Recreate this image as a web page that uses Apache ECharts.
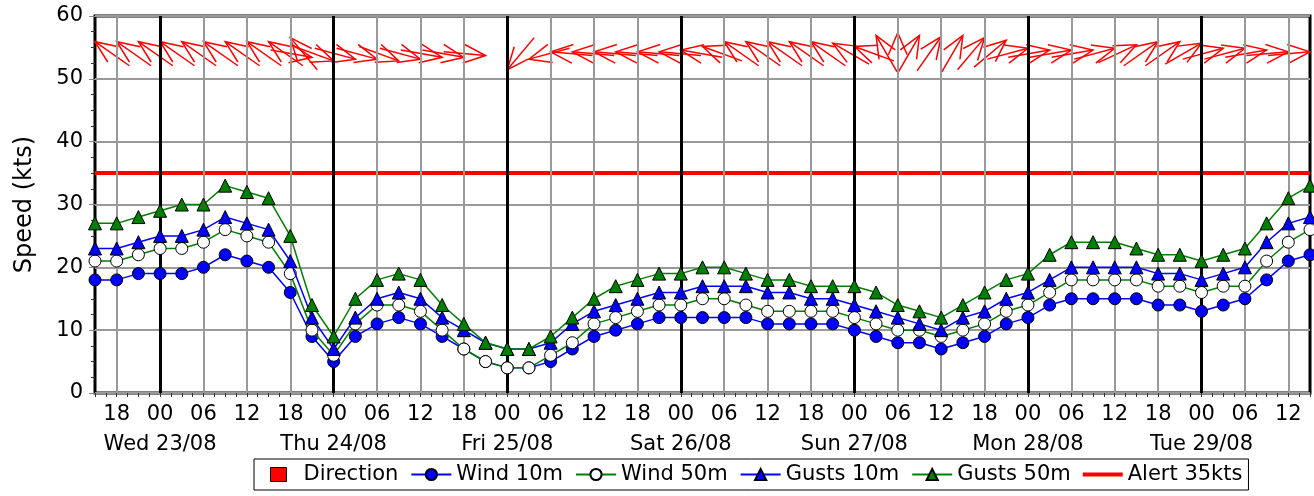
<!DOCTYPE html>
<html>
<head>
<meta charset="utf-8">
<script src="https://cdn.jsdelivr.net/npm/echarts@6.0.0/dist/echarts.min.js"></script>
<style>
  html, body { margin: 0; padding: 0; background: #fff; }
  #chart { width: 1314px; height: 496px; }
</style>
</head>
<body>
<div id="chart"></div>
<script>
// hours counted from Tue 22/08 00:00, one point every 3 hours
const startHour = 15;
const endHour = 183;
const stepHours = 3;

const dayNames = ['Wed 23/08', 'Thu 24/08', 'Fri 25/08', 'Sat 26/08', 'Sun 27/08', 'Mon 28/08', 'Tue 29/08'];

const wind10 = [18, 18, 19, 19, 19, 20, 22, 21, 20, 16, 9,
  5, 9, 11, 12, 11, 9, 7, 5,
  4, 4, 5, 7, 9, 10, 11, 12,
  12, 12, 12, 12, 11, 11, 11, 11,
  10, 9, 8, 8, 7, 8, 9, 11,
  12, 14, 15, 15, 15, 15, 14, 14,
  13, 14, 15, 18, 21, 22];
const wind50 = [21, 21, 22, 23, 23, 24, 26, 25, 24, 19, 10,
  6, 11, 14, 14, 13, 10, 7, 5,
  4, 4, 6, 8, 11, 12, 13, 14,
  14, 15, 15, 14, 13, 13, 13, 13,
  12, 11, 10, 10, 9, 10, 11, 13,
  14, 16, 18, 18, 18, 18, 17, 17,
  16, 17, 17, 21, 24, 26];
const gusts10 = [23, 23, 24, 25, 25, 26, 28, 27, 26, 21, 12,
  7, 12, 15, 16, 15, 12, 10, 8,
  7, 7, 8, 11, 13, 14, 15, 16,
  16, 17, 17, 17, 16, 16, 15, 15,
  14, 13, 12, 11, 10, 12, 13, 15,
  16, 18, 20, 20, 20, 20, 19, 19,
  18, 19, 20, 24, 27, 28];
const gusts50 = [27, 27, 28, 29, 30, 30, 33, 32, 31, 25, 14,
  9, 15, 18, 19, 18, 14, 11, 8,
  7, 7, 9, 12, 15, 17, 18, 19,
  19, 20, 20, 19, 18, 18, 17, 17,
  17, 16, 14, 13, 12, 14, 16, 18,
  19, 22, 24, 24, 24, 23, 22, 22,
  21, 22, 23, 27, 31, 33];
// direction the arrow points to, degrees clockwise from north
const direction = [305, 305, 305, 305, 305, 305, 305, 305, 305, 320, 100,
  110, 105, 105, 110, 105, 100, 100, 95,
  220, 255, 275, 275, 275, 275, 275, 275,
  280, 290, 305, 305, 305, 305, 305, 300,
  290, 330, 0, 30, 35, 30, 40, 50,
  75, 80, 80, 80, 75, 65, 55, 55,
  60, 75, 75, 80, 85, 85];
const arrowLevel = 54;
const alertLevel = 35;

const hours = [];
for (let i = 0; i < wind10.length; i++) {
  hours.push(startHour + i * stepHours);
}
const pairs = arr => arr.map((v, i) => [hours[i], v]);

const gridLines = [];
const dayLines = [];
for (let h = 18; h < endHour; h += 6) {
  if (h % 24 === 0) dayLines.push({ xAxis: h });
  else gridLines.push({ xAxis: h });
}

const font = 'DejaVu Sans';
const blue = '#0000ff';
const green = '#008000';

const chart = echarts.init(document.getElementById('chart'));

function renderArrow(params, api) {
  const p = api.coord([api.value(0), api.value(1)]);
  const a = api.value(2) * Math.PI / 180;
  const ux = Math.sin(a), uy = -Math.cos(a);
  const len = 42, barb = 24, spread = 23 * Math.PI / 180;
  const tip = [p[0], p[1] + uy * len / 2];
  const tail = [tip[0] - ux * len, tip[1] - uy * len];
  const bx = -ux, by = -uy;
  const rot = s => [
    tip[0] + barb * (bx * Math.cos(s) - by * Math.sin(s)),
    tip[1] + barb * (bx * Math.sin(s) + by * Math.cos(s))
  ];
  const style = { stroke: '#ff0000', lineWidth: 1.5, fill: null };
  return {
    type: 'group',
    children: [
      { type: 'polyline', shape: { points: [tail, tip] }, style: style },
      { type: 'polyline', shape: { points: [rot(spread), tip, rot(-spread)] }, style: style }
    ]
  };
}

const option = {
  animation: false,
  backgroundColor: '#fff',
  textStyle: { fontFamily: font, color: '#000' },
  grid: {
    left: 95, right: 4, top: 16, bottom: 103,
    show: true, borderColor: '#000', borderWidth: 3
  },
  legend: {
    left: 254, top: 459,
    padding: [5, 6, 5, 4],
    itemGap: 12, itemWidth: 40, itemHeight: 14,
    backgroundColor: '#fff', borderColor: '#000', borderWidth: 1,
    textStyle: { fontFamily: font, fontSize: 21, color: '#000' },
    data: [
      {
        name: 'Direction',
        icon: 'path://M0 7L0 7M12 0H28V14H12ZM40 7L40 7',
        itemStyle: { color: '#ff0000', borderColor: '#000', borderWidth: 1 }
      },
      'Wind 10m', 'Wind 50m', 'Gusts 10m', 'Gusts 50m',
      {
        name: 'Alert 35kts',
        icon: 'path://M0 0L0 0M0 5H40V9H0ZM0 14L0 14',
        itemStyle: { color: '#ff0000', borderWidth: 0 }
      }
    ]
  },
  xAxis: {
    type: 'value',
    min: startHour, max: endHour, interval: 1.5,
    axisLine: { show: false },
    axisTick: { show: true, length: 4, lineStyle: { color: '#333', width: 1 } },
    splitLine: { show: false },
    axisLabel: {
      margin: 7, fontFamily: font, fontSize: 21, color: '#000', lineHeight: 30,
      formatter: v => {
        const h = Math.round(v * 10) / 10;
        if (h % 6 !== 0) return '';
        const hh = String(h % 24).padStart(2, '0');
        if (h % 24 === 0) return hh + '\n' + dayNames[h / 24 - 1];
        return hh;
      }
    }
  },
  yAxis: {
    type: 'value',
    min: 0, max: 60, interval: 10,
    name: 'Speed (kts)', nameLocation: 'middle', nameGap: 58,
    nameTextStyle: { fontFamily: font, fontSize: 24, color: '#000' },
    axisLine: { show: false },
    axisTick: { show: true, inside: false, length: 6, lineStyle: { color: '#888' } },
    minorTick: { show: true, splitNumber: 4, length: 4, lineStyle: { color: '#333' } },
    axisLabel: { margin: 12, fontFamily: font, fontSize: 21, color: '#000' },
    splitLine: { show: true, lineStyle: { color: '#999', width: 2 } }
  },
  series: [
    {
      name: 'Direction',
      type: 'custom',
      z: 4,
      itemStyle: { color: '#ff0000' },
      renderItem: renderArrow,
      data: direction.map((d, i) => [hours[i], arrowLevel, d])
    },
    {
      name: 'grid',
      type: 'line',
      data: [],
      z: 1,
      silent: true,
      markLine: {
        silent: true, symbol: 'none', label: { show: false },
        data: gridLines,
        lineStyle: { color: '#999', width: 2, type: 'solid' }
      }
    },
    {
      name: 'days',
      type: 'line',
      data: [],
      z: 2,
      silent: true,
      markLine: {
        silent: true, symbol: 'none', label: { show: false },
        data: dayLines,
        lineStyle: { color: '#000', width: 3, type: 'solid' }
      }
    },
    {
      name: 'Alert 35kts',
      type: 'line',
      z: 3,
      symbol: 'none',
      itemStyle: { color: '#ff0000' },
      lineStyle: { color: '#ff0000', width: 4 },
      data: [[startHour, alertLevel], [endHour, alertLevel]]
    },
    {
      name: 'Wind 10m',
      type: 'line',
      z: 5,
      symbol: 'circle', symbolSize: 12,
      itemStyle: { color: blue, borderColor: '#000', borderWidth: 1 },
      lineStyle: { color: blue, width: 1.5 },
      data: pairs(wind10)
    },
    {
      name: 'Wind 50m',
      type: 'line',
      z: 6,
      symbol: 'circle', symbolSize: 12,
      itemStyle: { color: '#fff', borderColor: '#000', borderWidth: 1 },
      lineStyle: { color: green, width: 1.5 },
      data: pairs(wind50)
    },
    {
      name: 'Gusts 10m',
      type: 'line',
      z: 7,
      symbol: 'triangle', symbolSize: 13,
      itemStyle: { color: blue, borderColor: '#000', borderWidth: 1 },
      lineStyle: { color: blue, width: 1.5 },
      data: pairs(gusts10)
    },
    {
      name: 'Gusts 50m',
      type: 'line',
      z: 8,
      symbol: 'triangle', symbolSize: 13,
      itemStyle: { color: green, borderColor: '#000', borderWidth: 1 },
      lineStyle: { color: green, width: 1.5 },
      data: pairs(gusts50)
    }
  ]
};

chart.setOption(option);
</script>
</body>
</html>
